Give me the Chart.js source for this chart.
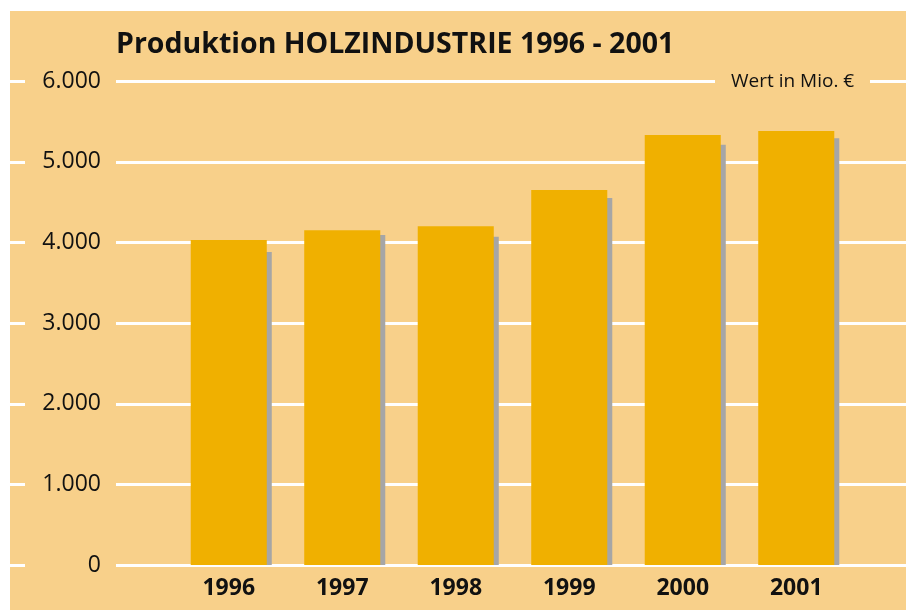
<!DOCTYPE html>
<html>
<head>
<meta charset="utf-8">
<script src="https://cdn.jsdelivr.net/npm/chart.js@4"></script>
<style>
  html, body { margin: 0; padding: 0; background: #ffffff; }
  #wrap { position: absolute; left: 0; top: 0; width: 906px; height: 610px; }
</style>
</head>
<body>
<div id="wrap"><canvas id="chart" width="906" height="610"></canvas></div>
<script>
// Data
const years = ['1996', '1997', '1998', '1999', '2000', '2001'];
const produktion = [4030, 4150, 4200, 4650, 5330, 5380];
const schatten = [3880, 4090, 4070, 4550, 5210, 5290];
const yTicks = [0, 1000, 2000, 3000, 4000, 5000, 6000];
const titleText = 'Produktion HOLZINDUSTRIE 1996 - 2001';
const unitText = 'Wert in Mio. €';

const colors = {
  panel: '#f8d08a',
  bar: '#f0b000',
  shadow: '#a6a6a6',
  grid: '#ffffff',
  text: '#111111'
};

const fmt = v => v.toLocaleString('de-DE');

// Peach panel, title, white grid lines with gaps for labels, unit note
const backdrop = {
  id: 'backdrop',
  beforeDraw(chart) {
    const ctx = chart.ctx;
    ctx.save();
    ctx.fillStyle = colors.panel;
    ctx.fillRect(10, 11, chart.width - 10, chart.height - 11);
    ctx.fillStyle = colors.text;
    ctx.font = 'bold 28.5px "Open Sans"';
    ctx.textBaseline = 'alphabetic';
    ctx.fillText(titleText, 116, 53);
    ctx.restore();
  },
  beforeDatasetsDraw(chart) {
    const ctx = chart.ctx;
    const y = chart.scales.y;
    ctx.save();
    ctx.strokeStyle = colors.grid;
    ctx.lineWidth = 3;
    yTicks.forEach(v => {
      const py = Math.round(y.getPixelForValue(v)) + 0.5;
      ctx.beginPath();
      ctx.moveTo(10, py);
      ctx.lineTo(25, py);
      ctx.moveTo(116, py);
      if (v === 6000) {
        ctx.lineTo(715, py);
        ctx.moveTo(870, py);
      }
      ctx.lineTo(chart.width, py);
      ctx.stroke();
    });
    ctx.fillStyle = colors.text;
    ctx.font = '19px "Open Sans"';
    ctx.textBaseline = 'middle';
    ctx.fillText(unitText, 731, y.getPixelForValue(6000) + 0.5);
    ctx.restore();
  },
  // grey shadow bars sit a few pixels to the right
  beforeDatasetDraw(chart, args) {
    if (args.index === 1) {
      chart.ctx.save();
      chart.ctx.translate(5, 0);
    }
  },
  afterDatasetDraw(chart, args) {
    if (args.index === 1) chart.ctx.restore();
  }
};

new Chart(document.getElementById('chart'), {
  type: 'bar',
  data: {
    labels: years,
    datasets: [
      {
        label: 'Produktion',
        data: produktion,
        backgroundColor: colors.bar,
        order: 1
      },
      {
        label: 'Schatten',
        data: schatten,
        backgroundColor: colors.shadow,
        order: 2
      }
    ]
  },
  plugins: [backdrop],
  options: {
    responsive: false,
    maintainAspectRatio: false,
    animation: false,
    layout: {
      padding: { left: 10, right: 53, top: 81, bottom: 0 }
    },
    datasets: {
      bar: {
        grouped: false,
        categoryPercentage: 1,
        barPercentage: 0.67,
        borderWidth: 0
      }
    },
    plugins: {
      legend: { display: false },
      tooltip: { enabled: false },
      title: { display: false }
    },
    scales: {
      x: {
        grid: { display: false, drawTicks: false },
        border: { display: false },
        ticks: {
          color: colors.text,
          padding: 10,
          font: { family: '"Open Sans"', size: 23, weight: 'bold' }
        },
        afterFit: scale => { scale.height = 45; }
      },
      y: {
        min: 0,
        max: 6000,
        grid: { display: false, drawTicks: false },
        border: { display: false },
        afterBuildTicks: scale => {
          scale.ticks = yTicks.map(v => ({ value: v }));
        },
        ticks: {
          color: colors.text,
          padding: 71,
          font: { family: '"Open Sans"', size: 23 },
          callback: v => fmt(v)
        },
        afterFit: scale => {
          scale.width = 162;
          scale.paddingTop = 0;
          scale.paddingBottom = 0;
        }
      }
    }
  }
});
</script>
</body>
</html>
